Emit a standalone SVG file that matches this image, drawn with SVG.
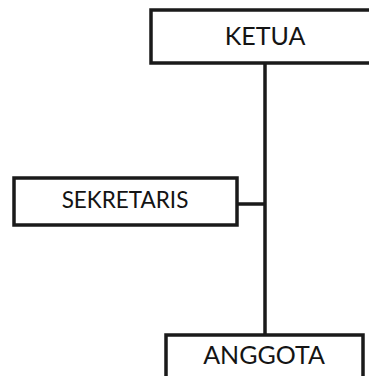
<svg xmlns="http://www.w3.org/2000/svg" width="369" height="376" viewBox="0 0 369 376">
  <style>
    .box { fill: #ffffff; stroke: #1a1a1a; stroke-width: 3.5; }
    .lbl { font-family: Lato, "Liberation Sans", sans-serif; fill: #141414; text-anchor: middle; }
    .conn { stroke: #1a1a1a; stroke-width: 3.5; fill: none; }
  </style>
  <rect width="369" height="376" fill="#ffffff"/>
  <g id="connectors">
    <line class="conn" x1="265" y1="63" x2="265" y2="335"/>
    <line class="conn" x1="237" y1="204" x2="265" y2="204"/>
  </g>
  <g id="ketua">
    <rect class="box" x="151" y="10" width="225" height="53"/>
    <text class="lbl" x="265" y="45" font-size="25">KETUA</text>
  </g>
  <g id="sekretaris">
    <rect class="box" x="14" y="178" width="223" height="47"/>
    <text class="lbl" x="125" y="208" font-size="22.5">SEKRETARIS</text>
  </g>
  <g id="anggota">
    <rect class="box" x="166" y="335" width="197" height="50"/>
    <text class="lbl" x="264" y="364" font-size="25">ANGGOTA</text>
  </g>
</svg>
